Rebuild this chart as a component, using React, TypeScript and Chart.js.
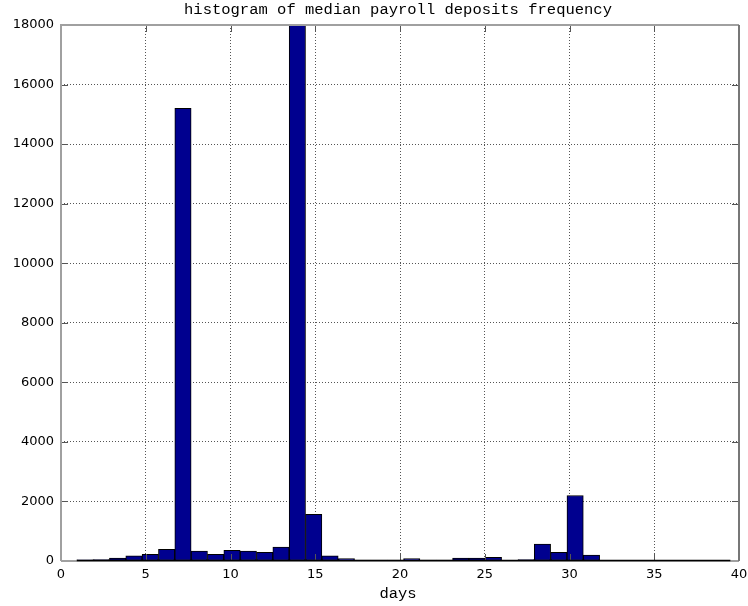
import { useEffect, useRef } from "react";
import { Chart, registerables } from "chart.js";

Chart.register(...registerables);

const TITLE = "histogram of median payroll deposits frequency";
const X_LABEL = "days";

// histogram bins: left edge of the first bin and the common bin width (days)
const BIN_START = 0.93;
const BIN_WIDTH = 0.964;

// counts per bin, 40 bins
const COUNTS = [
  40, 45, 100, 170, 225, 390, 15200, 330, 225, 360,
  330, 290, 470, 18000, 1570, 170, 80, 35, 35, 35,
  80, 35, 35, 100, 100, 125, 5, 45, 570, 290,
  2200, 200, 0, 0, 0, 0, 0, 0, 0, 0,
];

const X_TICKS = [0, 5, 10, 15, 20, 25, 30, 35, 40];
const Y_TICKS = [0, 2000, 4000, 6000, 8000, 10000, 12000, 14000, 16000, 18000];

const TICK_FONT = { family: "'DejaVu Sans', sans-serif", size: 13 };
const MONO = "'Liberation Mono', 'DejaVu Sans Mono', monospace";

// axes box, inward tick marks, bar baseline and the text labels
const framePlugin = {
  id: "frame",
  afterDraw(chart: any) {
    const { ctx, chartArea } = chart;
    const { left, right, top, bottom } = chartArea;
    const xs = chart.scales.x;
    const ys = chart.scales.y;
    ctx.save();

    // inward ticks
    const tl = 7;
    ctx.strokeStyle = "#555";
    ctx.lineWidth = 1;
    ctx.beginPath();
    X_TICKS.forEach((v) => {
      const px = Math.round(xs.getPixelForValue(v)) + 0.5;
      ctx.moveTo(px, bottom);
      ctx.lineTo(px, bottom - tl);
      ctx.moveTo(px, top);
      ctx.lineTo(px, top + tl);
    });
    Y_TICKS.forEach((v) => {
      const py = Math.round(ys.getPixelForValue(v)) + 0.5;
      ctx.moveTo(left, py);
      ctx.lineTo(left + tl, py);
      ctx.moveTo(right, py);
      ctx.lineTo(right - tl, py);
    });
    ctx.stroke();

    // axes box
    ctx.lineWidth = 2;
    ctx.strokeStyle = "#a0a0a0";
    ctx.beginPath();
    ctx.moveTo(left, bottom);
    ctx.lineTo(left, top);
    ctx.lineTo(right, top);
    ctx.moveTo(left, bottom);
    ctx.lineTo(right, bottom);
    ctx.stroke();
    ctx.strokeStyle = "#777";
    ctx.beginPath();
    ctx.moveTo(right, top);
    ctx.lineTo(right, bottom);
    ctx.stroke();

    // baseline under the bins
    ctx.strokeStyle = "#000";
    ctx.lineWidth = 1.5;
    ctx.beginPath();
    ctx.moveTo(xs.getPixelForValue(BIN_START), bottom - 0.5);
    ctx.lineTo(xs.getPixelForValue(BIN_START + COUNTS.length * BIN_WIDTH), bottom - 0.5);
    ctx.stroke();

    // title and x label
    ctx.fillStyle = "#000";
    ctx.textAlign = "center";
    ctx.textBaseline = "alphabetic";
    ctx.font = `15.5px ${MONO}`;
    const cx = (left + right) / 2;
    ctx.fillText(TITLE, cx - 2, 14);
    ctx.fillText(X_LABEL, cx - 2, 598);
    ctx.restore();
  },
};

export default function App() {
  const canvasRef = useRef<HTMLCanvasElement | null>(null);

  useEffect(() => {
    const canvas = canvasRef.current;
    if (!canvas) return;
    const data = COUNTS.map((c, i) => ({ x: BIN_START + (i + 0.5) * BIN_WIDTH, y: c }));
    const chart = new Chart(canvas, {
      type: "bar",
      data: {
        datasets: [
          {
            data,
            backgroundColor: "#00008f",
            borderColor: "#000",
            borderWidth: 1,
            borderSkipped: false,
            barPercentage: 1,
            categoryPercentage: 1,
            grouped: false,
          } as any,
        ],
      },
      options: {
        animation: false,
        responsive: false,
        maintainAspectRatio: false,
        layout: { padding: { top: 25, right: 9, left: 0, bottom: 0 } },
        plugins: {
          legend: { display: false },
          title: { display: false },
          tooltip: { enabled: false },
        },
        scales: {
          x: {
            type: "linear",
            min: 0,
            max: 40,
            offset: false,
            ticks: {
              stepSize: 5,
              padding: 6,
              color: "#000",
              font: TICK_FONT,
              maxRotation: 0,
              autoSkip: false,
              callback: (v: any) => String(v),
            },
            grid: { color: "#555", drawTicks: false, offset: false },
            border: { display: false, dash: [1, 2] },
            afterFit: (s: any) => {
              s.height = 45;
              s.paddingLeft = 0;
              s.paddingRight = 0;
            },
          },
          y: {
            type: "linear",
            min: 0,
            max: 18000,
            ticks: {
              stepSize: 2000,
              padding: 7,
              color: "#000",
              font: TICK_FONT,
              callback: (v: any) => String(v),
            },
            grid: { color: "#555", drawTicks: false },
            border: { display: false, dash: [1, 2] },
            afterFit: (s: any) => {
              s.width = 61;
              s.paddingTop = 0;
              s.paddingBottom = 0;
            },
          },
        },
      } as any,
      plugins: [framePlugin],
    });
    return () => chart.destroy();
  }, []);

  return (
    <div style={{ position: "absolute", left: 0, top: 0, width: 748, height: 606, background: "#fff" }}>
      <canvas ref={canvasRef} width={748} height={606} style={{ display: "block" }} />
    </div>
  );
}
